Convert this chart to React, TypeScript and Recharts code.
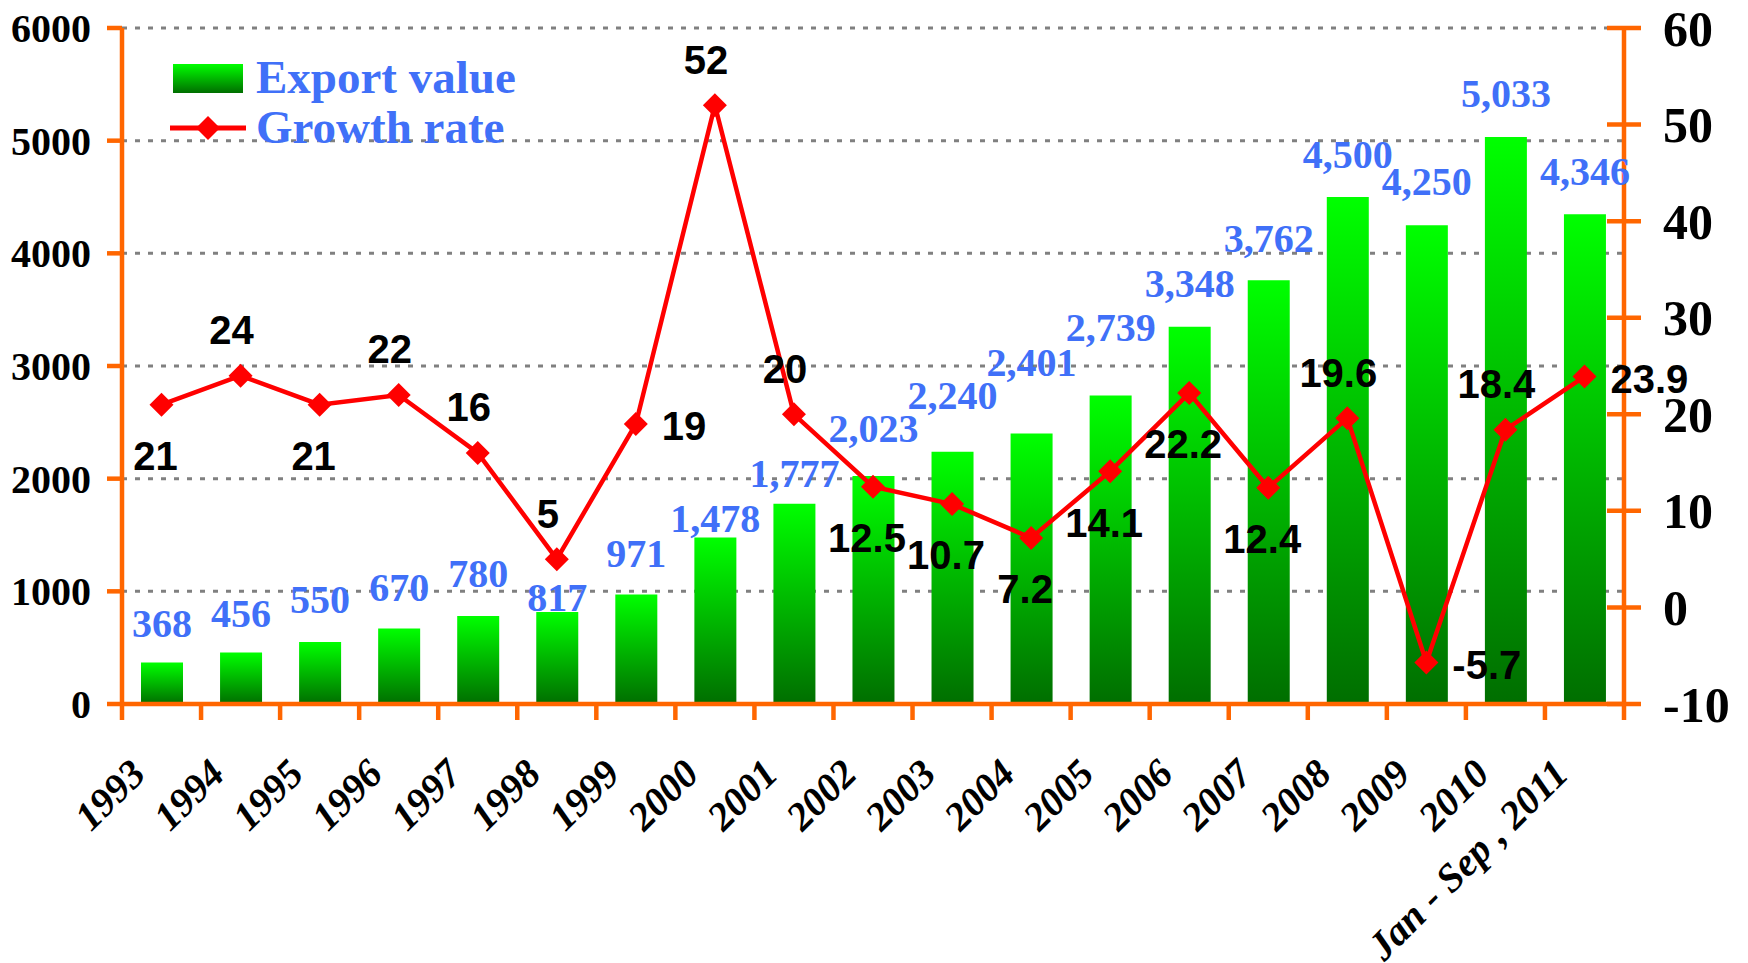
import { ComposedChart, Bar, Line, XAxis, YAxis, CartesianGrid, LabelList, Legend } from 'recharts';

const years = [
  '1993', '1994', '1995', '1996', '1997', '1998', '1999', '2000', '2001', '2002',
  '2003', '2004', '2005', '2006', '2007', '2008', '2009', '2010', 'Jan - Sep , 2011',
];
const exportValue = [368, 456, 550, 670, 780, 817, 971, 1478, 1777, 2023, 2240, 2401, 2739, 3348, 3762, 4500, 4250, 5033, 4346];
const growthRate = [21, 24, 21, 22, 16, 5, 19, 52, 20, 12.5, 10.7, 7.2, 14.1, 22.2, 12.4, 19.6, -5.7, 18.4, 23.9];
const leftTicks = [0, 1000, 2000, 3000, 4000, 5000, 6000];
const rightTicks = [-10, 0, 10, 20, 30, 40, 50, 60];

// where each growth label sits around its point: t = above, b = below, r = right
const growthSpot = ['b', 't', 'b', 't', 't', 't', 'r', 't', 't', 'b', 'b', 'b', 'b', 'b', 'b', 't', 'r', 't', 'r'];
// px between the bar top and the value label baseline (labels were hand placed)
const valueLabelGap = [26, 26, 29, 28, 29, 1, 28, 5, 17, 34, 43, 57, 54, 30, 28, 29, 30, 30, 29];

const data = years.map((year, i) => ({ year, exportValue: exportValue[i], growthRate: growthRate[i] }));

const W = 1748;
const H = 963;
const PLOT_LEFT = 122;
const PLOT_RIGHT = 1624;
const PLOT_TOP = 28;
const PLOT_BOTTOM = 704;
const HALF_BAND = (PLOT_RIGHT - PLOT_LEFT) / years.length / 2;

const ORANGE = '#FF6600';
const BLUE = '#4070F8';
const SERIF = '"Liberation Serif", "Times New Roman", serif';
const SANS = '"Liberation Sans", Arial, sans-serif';

const spotOffset: Record<string, { dx: number; dy: number; anchor: 'middle' | 'start' }> = {
  t: { dx: -9, dy: -46, anchor: 'middle' },
  b: { dx: -6, dy: 51, anchor: 'middle' },
  r: { dx: 26, dy: 2, anchor: 'start' },
};

const fmt = (v: number) => String(v).replace(/\B(?=(\d{3})+(?!\d))/g, ',');

function LeftTick({ x, y, payload }: any) {
  return (
    <g>
      <line x1={x - 15} x2={x} y1={y} y2={y} stroke={ORANGE} strokeWidth={4.5} />
      <text x={x - 31} y={y} dy="0.35em" textAnchor="end" fontFamily={SERIF} fontWeight="bold" fontSize={40} fill="#000">
        {payload.value}
      </text>
    </g>
  );
}

function RightTick({ x, y, payload }: any) {
  return (
    <g>
      <line x1={x - 17} x2={x + 17} y1={y} y2={y} stroke={ORANGE} strokeWidth={4.5} />
      <text x={x + 39} y={y} dy="0.35em" textAnchor="start" fontFamily={SERIF} fontWeight="bold" fontSize={50} fill="#000">
        {payload.value}
      </text>
    </g>
  );
}

function YearTick({ x, y, payload, index }: any) {
  return (
    <g>
      <line x1={x - HALF_BAND} x2={x - HALF_BAND} y1={y} y2={y + 16} stroke={ORANGE} strokeWidth={4.5} />
      {index === years.length - 1 && (
        <line x1={x + HALF_BAND} x2={x + HALF_BAND} y1={y} y2={y + 16} stroke={ORANGE} strokeWidth={4.5} />
      )}
      <text
        transform={`translate(${x - 14},${y + 72}) rotate(-45)`}
        textAnchor="end"
        fontFamily={SERIF}
        fontWeight="bold"
        fontStyle="italic"
        fontSize={40}
        fill="#000"
      >
        {payload.value}
      </text>
    </g>
  );
}

const Diamond = ({ cx, cy }: any) => {
  if (cx == null || cy == null) return null;
  return <path d={`M${cx},${cy - 12}L${cx + 12},${cy}L${cx},${cy + 12}L${cx - 12},${cy}Z`} fill="#FF0000" />;
};

function ValueLabel(props: any) {
  const { x, y, width, index, value } = props;
  return (
    <text
      x={x + width / 2}
      y={y - valueLabelGap[index]}
      textAnchor="middle"
      fontFamily={SERIF}
      fontWeight="bold"
      fontSize={40}
      fill={BLUE}
    >
      {fmt(value)}
    </text>
  );
}

function GrowthLabel(props: any) {
  const { x, y, index, value } = props;
  const spot = spotOffset[growthSpot[index]];
  return (
    <text
      x={x + spot.dx}
      y={y + spot.dy}
      dy="0.36em"
      textAnchor={spot.anchor}
      fontFamily={SANS}
      fontWeight="bold"
      fontSize={40}
      fill="#000"
    >
      {value}
    </text>
  );
}

function LegendBox() {
  return (
    <svg width={400} height={120} style={{ display: 'block' }}>
      <defs>
        <linearGradient id="legendGrad" x1="0" y1="0" x2="0" y2="1">
          <stop offset="0%" stopColor="#00FF00" />
          <stop offset="100%" stopColor="#006E00" />
        </linearGradient>
      </defs>
      <rect x={5} y={19} width={70} height={29} fill="url(#legendGrad)" />
      <text x={88} y={48} fontFamily={SERIF} fontWeight="bold" fontSize={47} fill={BLUE}>
        Export value
      </text>
      <line x1={2} x2={78} y1={83} y2={83} stroke="#FF0000" strokeWidth={5} />
      <path d="M40,71L52,83L40,95L28,83Z" fill="#FF0000" />
      <text x={88} y={98} fontFamily={SERIF} fontWeight="bold" fontSize={47} fill={BLUE}>
        Growth rate
      </text>
    </svg>
  );
}

export default function App() {
  return (
    <div style={{ position: 'absolute', left: 0, top: 0, width: W, height: H, background: '#fff' }}>
      <ComposedChart
        width={W}
        height={H}
        data={data}
        margin={{ top: PLOT_TOP, right: 0, bottom: 0, left: 0 }}
      >
        <defs>
          <linearGradient id="barGrad" x1="0" y1="0" x2="0" y2="1">
            <stop offset="0%" stopColor="#00FF00" />
            <stop offset="100%" stopColor="#006E00" />
          </linearGradient>
        </defs>
        <CartesianGrid
          yAxisId="left"
          vertical={false}
          stroke="#808080"
          strokeWidth={3}
          strokeDasharray="5 8"
        />
        <XAxis
          dataKey="year"
          interval={0}
          height={H - PLOT_BOTTOM}
          tickSize={0}
          tickMargin={0}
          tickLine={false}
          axisLine={{ stroke: ORANGE, strokeWidth: 4.5 }}
          tick={YearTick}
        />
        <YAxis
          yAxisId="left"
          orientation="left"
          domain={[0, 6000]}
          ticks={leftTicks}
          interval={0}
          width={PLOT_LEFT}
          tickSize={0}
          tickMargin={0}
          tickLine={false}
          axisLine={{ stroke: ORANGE, strokeWidth: 4.5 }}
          tick={LeftTick}
        />
        <YAxis
          yAxisId="right"
          orientation="right"
          domain={[-10, 60]}
          ticks={rightTicks}
          interval={0}
          width={W - PLOT_RIGHT}
          tickSize={0}
          tickMargin={0}
          tickLine={false}
          axisLine={{ stroke: ORANGE, strokeWidth: 4.5 }}
          tick={RightTick}
        />
        <Legend
          layout="horizontal"
          verticalAlign="middle"
          wrapperStyle={{ left: 168, top: 45, width: 400, height: 120 }}
          content={() => <LegendBox />}
        />
        <Bar
          yAxisId="left"
          dataKey="exportValue"
          name="Export value"
          barSize={42}
          fill="url(#barGrad)"
          isAnimationActive={false}
        >
          <LabelList dataKey="exportValue" content={ValueLabel} />
        </Bar>
        <Line
          yAxisId="right"
          dataKey="growthRate"
          name="Growth rate"
          type="linear"
          stroke="#FF0000"
          strokeWidth={4.5}
          dot={Diamond}
          activeDot={false}
          isAnimationActive={false}
        >
          <LabelList dataKey="growthRate" content={GrowthLabel} />
        </Line>
      </ComposedChart>
    </div>
  );
}
